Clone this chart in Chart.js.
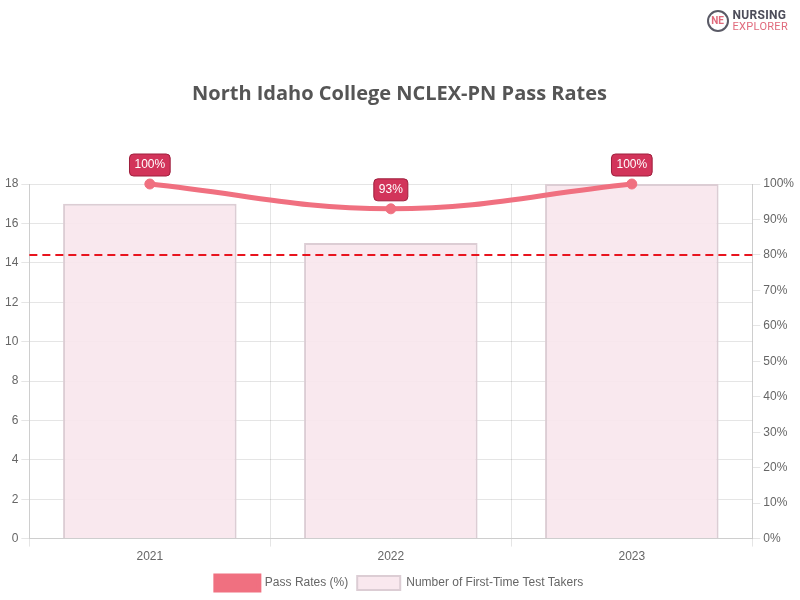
<!DOCTYPE html>
<html>
<head>
<meta charset="utf-8">
<script src="https://cdn.jsdelivr.net/npm/chart.js@4.4.1/dist/chart.umd.min.js"></script>
<style>
  html, body { margin: 0; padding: 0; background: #fff; }
  #wrap { position: relative; width: 800px; height: 600px; }
  #logo { position: absolute; right: 12px; top: 9px; display: flex; align-items: center; font-family: "Roboto", sans-serif; }
  #logo .ic { width: 18px; height: 18px; border: 2px solid #5a5a66; border-radius: 50%; color: #e06a7c; font-size: 10px; font-weight: bold; line-height: 18px; text-align: center; margin-right: 4px; }
  #logo .t1 { font-weight: bold; font-size: 12px; color: #4d4d5a; line-height: 12px; letter-spacing: 0.3px; }
  #logo .t2 { font-size: 11px; color: #e06a7c; line-height: 11px; letter-spacing: 0.3px; }
</style>
</head>
<body>
<div id="wrap">
  <canvas id="chart" width="800" height="600"></canvas>
  <div id="logo"><div class="ic">NE</div><div><div class="t1">NURSING</div><div class="t2">EXPLORER</div></div></div>
</div>
<script>
// chart data
const years = ['2021', '2022', '2023'];
const passRates = [100, 93, 100];
const testTakers = [17, 15, 18];
const benchmark = 80;

const lineColor = 'rgb(240, 112, 128)';

// dashed benchmark line on the right (%) axis
const benchmarkLine = {
    id: 'benchmarkLine',
    afterDatasetsDraw(chart) {
        const { ctx, chartArea } = chart;
        const y = chart.scales.y1.getPixelForValue(benchmark);
        ctx.save();
        ctx.strokeStyle = '#e8141e';
        ctx.lineWidth = 2;
        ctx.setLineDash([8, 5]);
        ctx.beginPath();
        ctx.moveTo(chartArea.left, y);
        ctx.lineTo(chartArea.right, y);
        ctx.stroke();
        ctx.restore();
    }
};

// value badges above the line points
const pointLabels = {
    id: 'pointLabels',
    afterDatasetsDraw(chart) {
        const { ctx } = chart;
        const meta = chart.getDatasetMeta(0);
        ctx.save();
        ctx.font = '12px "Liberation Sans", Arial, sans-serif';
        ctx.textAlign = 'center';
        ctx.textBaseline = 'middle';
        meta.data.forEach((pt, i) => {
            const txt = passRates[i] + '%';
            const w = ctx.measureText(txt).width + 10;
            const h = 22;
            const x = pt.x - w / 2;
            const y = pt.y - 19 - h / 2;
            ctx.beginPath();
            ctx.roundRect(x, y, w, h, 4);
            ctx.fillStyle = '#d2345a';
            ctx.fill();
            ctx.lineWidth = 1;
            ctx.strokeStyle = '#9e1f3d';
            ctx.stroke();
            ctx.fillStyle = '#fff';
            ctx.fillText(txt, pt.x, pt.y - 19);
        });
        ctx.restore();
    }
};

const ctx = document.getElementById('chart').getContext('2d');
new Chart(ctx, {
    type: 'bar',
    data: {
        labels: years,
        datasets: [{
            type: 'line',
            label: 'Pass Rates (%)',
            data: passRates,
            yAxisID: 'y1',
            borderColor: lineColor,
            backgroundColor: lineColor,
            borderWidth: 5,
            tension: 0.4,
            pointRadius: 5,
            pointBorderWidth: 1,
            pointBackgroundColor: lineColor,
            pointBorderColor: lineColor,
            clip: false,
            order: 0
        }, {
            label: 'Number of First-Time Test Takers',
            data: testTakers,
            yAxisID: 'y',
            backgroundColor: 'rgba(248, 230, 236, 0.9)',
            borderColor: 'rgba(220, 205, 212, 1)',
            borderWidth: 2,
            order: 1
        }]
    },
    options: {
        responsive: false,
        animation: false,
        layout: { padding: { top: 52, left: 2, right: 3, bottom: 0 } },
        plugins: {
            title: {
                display: true,
                text: 'North Idaho College NCLEX-PN Pass Rates',
                color: '#555',
                font: { family: '"Open Sans", sans-serif', size: 20, weight: 'bold' },
                padding: { top: 30, bottom: 78 }
            },
            legend: {
                position: 'bottom',
                labels: {
                    boxWidth: 43,
                    boxHeight: 14,
                    padding: 9,
                    color: '#666',
                    font: { family: '"Liberation Sans", Arial, sans-serif', size: 12 }
                }
            },
            tooltip: { enabled: false }
        },
        scales: {
            x: {
                ticks: { color: '#666', font: { family: '"Liberation Sans", Arial, sans-serif', size: 12 } },
                grid: { color: 'rgba(0,0,0,0.1)' }
            },
            y: {
                position: 'left',
                min: 0,
                max: 18,
                ticks: { stepSize: 2, color: '#666', font: { family: '"Liberation Sans", Arial, sans-serif', size: 12 } },
                grid: { color: 'rgba(0,0,0,0.1)' }
            },
            y1: {
                position: 'right',
                min: 0,
                max: 100,
                ticks: {
                    stepSize: 10,
                    color: '#666',
                    font: { family: '"Liberation Sans", Arial, sans-serif', size: 12 },
                    callback: v => v + '%'
                },
                grid: { drawOnChartArea: false, color: 'rgba(0,0,0,0.1)' }
            }
        }
    },
    plugins: [benchmarkLine, pointLabels]
});
</script>
</body>
</html>
